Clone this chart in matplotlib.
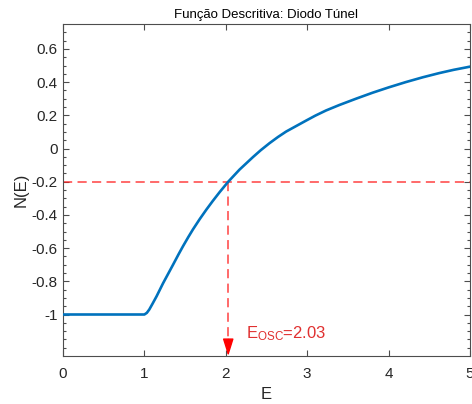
import matplotlib
matplotlib.use("Agg")
import matplotlib.pyplot as plt
from matplotlib.ticker import FixedLocator

plt.rcParams['font.family'] = ['Liberation Sans', 'DejaVu Sans']
plt.rcParams['mathtext.fontset'] = 'custom'
plt.rcParams['mathtext.rm'] = 'Liberation Sans'
plt.rcParams['mathtext.it'] = 'Liberation Sans'

# Data
E = [0.0, 1.0, 1.03, 1.06, 1.1, 1.15, 1.229, 1.352, 1.42, 1.475, 1.54, 1.597, 1.68,
     1.76, 1.84, 1.924, 2.03, 2.169, 2.333, 2.43, 2.537, 2.64, 2.741, 2.986, 3.1,
     3.231, 3.395, 3.6, 3.803, 4.0, 4.211, 4.42, 4.62, 4.8, 5.0]
N = [-1.0, -1.0, -0.99, -0.97, -0.935, -0.89, -0.812, -0.70, -0.637, -0.588, -0.533,
     -0.487, -0.425, -0.369, -0.316, -0.263, -0.2, -0.127, -0.052, -0.01, 0.032, 0.069,
     0.102, 0.168, 0.198, 0.229, 0.262, 0.30, 0.336, 0.368, 0.40, 0.429, 0.454, 0.474,
     0.493]
E_osc = 2.03
N_level = -0.2
xticks = [0, 1, 2, 3, 4, 5]
yticks = [-1, -0.8, -0.6, -0.4, -0.2, 0, 0.2, 0.4, 0.6]
ytick_labels = ['-1', '-0.8', '-0.6', '-0.4', '-0.2', '0', '0.2', '0.4', '0.6']
title = 'Função Descritiva: Diodo Túnel'

fig = plt.figure(figsize=(4.72, 4.04), dpi=100)
ax = fig.add_axes([63 / 472, 48 / 404, (470 - 63) / 472, (356 - 24) / 404])

axcol = '#4d4d4d'
txtcol = '#262626'
red = '#ff2020'

ax.plot(E, N, color='#0072BD', lw=1.9, solid_capstyle='round', solid_joinstyle='round', zorder=3)

ymin, ymax = -1.25, 0.75
ax.plot([0, 5], [N_level, N_level], color=red, lw=1.1, dashes=(6, 3.5), alpha=0.85, zorder=2)
ax.plot([E_osc, E_osc], [N_level, ymin + 0.05], color=red, lw=1.1, dashes=(6, 3.5), alpha=0.85, zorder=2)
ax.annotate('', xy=(E_osc, ymin), xytext=(E_osc, ymin + 0.1),
            arrowprops=dict(arrowstyle='-|>,head_length=1.05,head_width=0.33',
                            color='red', lw=1.0, shrinkA=0, shrinkB=0), zorder=4)
ax.text(E_osc + 0.22, -1.113, r'E$_{\mathrm{OSC}}$=2.03', color='#e03030', fontsize=12,
        va='center', ha='left')

ax.set_xlim(0, 5)
ax.set_ylim(ymin, ymax)
ax.set_xticks(xticks)
ax.set_xticklabels([str(v) for v in xticks])
ax.set_yticks(yticks)
ax.set_yticklabels(ytick_labels)
ax.yaxis.set_minor_locator(FixedLocator([v / 100 for v in range(-120, 75, 5)]))

ax.tick_params(which='both', direction='in', top=True, right=True, colors=axcol,
               labelcolor=txtcol, labelsize=11, width=0.8)
ax.tick_params(which='major', length=4)
ax.tick_params(axis='x', which='major', pad=8)
ax.tick_params(axis='y', which='major', pad=4)
ax.tick_params(which='minor', length=2.2)
for s in ax.spines.values():
    s.set_color(axcol)
    s.set_linewidth(0.8)

ax.set_xlabel('E', fontsize=12, color=txtcol, labelpad=4)
ax.set_ylabel('N(E)', fontsize=12, color=txtcol, labelpad=2)
ax.set_title(title, fontsize=9.5, color='black', pad=4)

fig.savefig('out.png', dpi=100)
